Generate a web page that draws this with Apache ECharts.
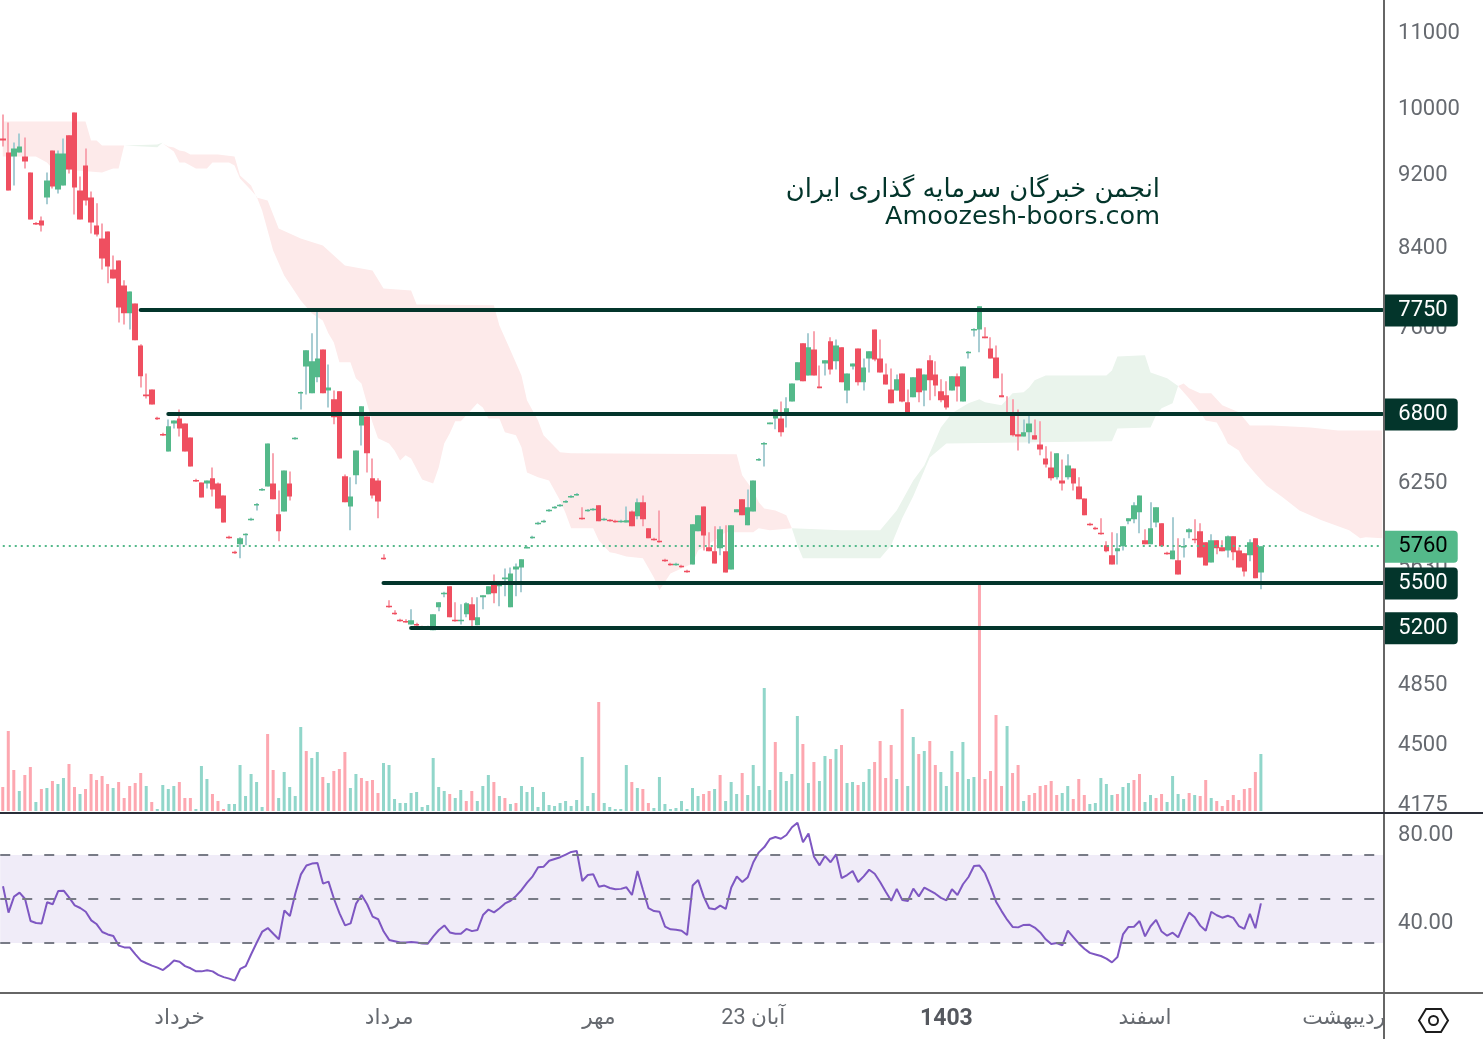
<!DOCTYPE html>
<html><head><meta charset="utf-8">
<script src="https://cdn.jsdelivr.net/npm/echarts@6/dist/echarts.min.js"></script>
<style>html,body{margin:0;padding:0;background:#fff}#c{width:1483px;height:1039px}</style></head>
<body><div id="c"></div><script>
// open, close, low, high
const candles=[[9606,9582,9510,9900],[9438,8999,8999,9800],[9391,9486,9056,9558],[9438,9510,9438,9667],[9391,9332,9251,9618],[9205,8677,8677,9205],[8638,8628,8618,8648],[8666,8612,8547,8710],[8920,9113,8843,9205],[9462,9044,9021,9462],
[9010,9427,8965,9462],[9056,9427,9056,9606],[9643,9239,9193,9643],[9925,9033,8732,9925],[8999,8677,8677,9159],[9286,8887,8831,9486],[8920,8644,8526,8988],[8612,8515,8494,8854],[8472,8263,8149,8633],[8547,8180,8008,8547],
[8149,8058,8058,8294],[8242,7770,7625,8242],[7987,7712,7606,8038],[7712,7927,7558,7927],[7809,7455,7455,7809],[7408,7126,7027,7418],[6966,6949,6931,7152],[7010,6879,6879,7010],[6764,6754,6745,6773],[6629,6621,6612,6638],
[6485,6692,6485,6750],[6717,6742,6675,6742],[6759,6675,6608,6836],[6717,6485,6485,6717],[6600,6364,6364,6600],[6257,6249,6241,6265],[6237,6121,6121,6237],[6229,6253,6190,6253],[6269,6182,6128,6356],[6229,6037,6037,6237],
[6136,5932,5932,6136],[5826,5818,5811,5833],[5717,5709,5702,5724],[5771,5815,5670,5822],[5840,5848,5764,5852],[5951,5959,5944,5966],[6063,6071,6022,6078],[6178,6186,6171,6193],[6206,6550,6206,6550],[6229,6106,6106,6469],
[5992,5866,5793,6175],[6014,6332,6014,6332],[6229,6128,6098,6324],[6588,6596,6580,6604],[6980,6988,6836,6992],[7215,7362,6966,7362],[6975,7261,6975,7521],[7117,7288,7072,7741],[7371,6975,6975,7371],[7001,7027,6853,7233],
[6923,6768,6709,7001],[6993,6428,6428,6993],[6285,6083,6083,6300],[6052,6128,5873,6277],[6293,6493,6222,6493],[6700,6862,6534,6862],[6776,6469,6316,6776],[6269,6136,6113,6428],[6253,6090,5962,6269],[5674,5666,5660,5699],
[5342,5336,5329,5379],[5295,5289,5282,5312],[5249,5243,5236,5256],[5242,5236,5229,5253],[5219,5246,5219,5319],[5222,5216,5209,5229],[5203,5197,5190,5210],[5197,5203,5190,5210],[5180,5286,5180,5286],[5332,5366,5306,5366],
[5424,5430,5399,5437],[5475,5266,5266,5475],[5249,5243,5236,5366],[5243,5249,5219,5352],[5286,5359,5266,5366],[5352,5246,5200,5399],[5213,5266,5213,5399],[5399,5413,5319,5413],[5420,5475,5420,5475],[5509,5427,5359,5557],
[5479,5485,5339,5495],[5523,5536,5406,5599],[5332,5564,5332,5606],[5592,5613,5406,5634],[5606,5663,5434,5663],[5746,5752,5742,5756],[5818,5826,5811,5833],[5921,5929,5914,5936],[5936,5944,5929,5951],[6018,6026,6011,6033],
[6041,6049,6034,6056],[6056,6064,6049,6071],[6086,6094,6079,6101],[6124,6132,6117,6139],[6140,6148,6133,6155],[5966,5958,5951,6045],[6018,6026,6011,6033],[6026,6034,6019,6041],[6060,5940,5940,6060],[5951,5959,5944,5966],
[5951,5943,5936,5958],[5944,5936,5929,5951],[5936,5944,5929,5951],[5932,5947,5932,6052],[6014,5903,5903,6022],[5977,6083,5955,6113],[6083,5955,5903,6136],[5888,5815,5815,5888],[5811,5803,5796,5818],[5797,5789,5782,6022],
[5660,5652,5645,5667],[5631,5623,5617,5638],[5623,5631,5617,5638],[5617,5609,5603,5624],[5582,5574,5568,5589],[5627,5918,5627,5918],[5866,5985,5866,5985],[6052,5836,5727,6052],[5749,5720,5720,5859],[5720,5634,5634,5903],
[5742,5881,5692,5903],[5720,5571,5571,5910],[5592,5910,5592,5910],[6007,6030,6007,6030],[6106,5985,5985,6106],[5910,6045,5910,6182],[6014,6253,6014,6253],[6416,6424,6408,6432],[6546,6554,6364,6562],[6709,6725,6709,6725],
[6759,6836,6667,6836],[6759,6642,6608,6905],[6802,6845,6683,6940],[6905,7063,6905,7063],[7090,7252,7090,7252],[7427,7081,7081,7427],[7134,7390,7134,7521],[7371,7134,7134,7540],[7036,7019,7019,7224],[7242,7270,7134,7270],
[7446,7188,7143,7483],[7261,7408,7188,7464],[7390,7072,7072,7390],[7001,7152,6888,7152],[7215,7242,7188,7242],[7380,7072,7045,7380],[7072,7206,7001,7288],[7288,7353,7161,7353],[7558,7279,7261,7558],[7288,7161,7161,7464],
[7143,7054,7054,7242],[7010,6888,6888,7197],[7001,7099,7001,7143],[7152,6905,6897,7152],[6897,6811,6811,7010],[6940,7117,6940,7117],[7197,6984,6897,7197],[7001,7143,6862,7143],[7270,7090,6914,7316],[7143,7045,6949,7261],
[6993,6914,6897,7099],[6958,6853,6836,7081],[7001,7126,7001,7126],[7126,7036,6905,7152],[6905,7215,6905,7215],[7340,7348,7288,7356],[7553,7563,7492,7568],[7558,7780,7344,7780],[7492,7474,7474,7578],[7380,7288,7288,7483],
[7297,7108,7108,7408],[6958,6940,6940,7152],[6806,6798,6790,6949],[6802,6617,6608,6923],[6625,6608,6493,6836],[6608,6642,6608,6750],[6642,6717,6550,6794],[6617,6583,6583,6750],[6542,6501,6453,6734],[6428,6380,6356,6526],
[6356,6269,6253,6485],[6277,6469,6261,6469],[6253,6229,6175,6420],[6277,6372,6261,6461],[6348,6229,6175,6348],[6206,6106,6106,6277],[6113,5985,5985,6113],[5922,5914,5907,5929],[5892,5884,5877,5899],[5855,5847,5840,5962],
[5764,5720,5713,5793],[5692,5627,5627,5859],[5720,5742,5627,5851],[5756,5903,5727,5903],[5940,5962,5918,5962],[5955,6060,5925,6083],[6007,6136,5851,6136],[5800,5771,5771,5881],[5771,5888,5771,6083],[5932,6045,5896,6045],
[5925,5756,5756,5925],[5710,5702,5695,5717],[5663,5727,5663,5970],[5656,5557,5557,5815],[5753,5759,5677,5815],[5859,5881,5815,5888],[5811,5803,5778,5955],[5866,5677,5677,5925],[5785,5620,5620,5785],[5641,5800,5641,5844],
[5800,5742,5699,5800],[5749,5720,5720,5800],[5727,5829,5677,5836],[5829,5713,5656,5829],[5727,5606,5606,5749],[5706,5578,5543,5706],[5692,5785,5649,5807],[5815,5530,5530,5815],[5571,5756,5454,5756]];

const volumes=[72,240,123,60,108,132,27,66,69,90,81,99,141,72,51,66,111,93,105,81,69,87,39,75,84,114,75,27,6,78,66,75,87,39,39,6,135,96,51,30,6,21,21,138,45,111,87,12,231,123,39,117,72,45,252,180,159,177,102,84,120,126,177,69,111,99,90,93,54,144,138,36,24,24,54,57,12,18,
159,72,60,51,39,63,30,60,30,75,108,87,45,39,21,24,75,57,72,12,57,18,15,24,30,15,33,162,15,54,327,24,12,6,6,138,87,69,66,24,9,102,21,6,9,30,6,69,45,51,60,66,108,30,87,51,114,48,138,75,369,63,207,117,90,111,285,201,84,147,90,165,156,186,198,84,87,
78,87,126,147,210,99,198,96,306,75,222,171,180,210,138,117,75,180,117,207,96,102,684,96,120,288,75,255,114,138,30,48,54,75,78,90,48,54,75,36,96,48,21,24,99,81,48,51,72,84,93,111,27,48,39,51,27,105,51,36,54,48,45,93,39,30,15,33,48,33,66,69,117,171];
const volumeDir="rrrgrrgrgr"+"ggrrgrrrrr"+"grrrrrgrgg"+"ggrrrgggrr"+"rgggggggrr"+"gggggrggrg"+"rrrggrrrrg"+"gggggggg"
 +"gggrggrrgg"+"grgrgrgggg"+"gggggggggg"+"rgggggrgrr"+"gggggggggr"+"rgrgggrggg"+"ggrggggrgr"+"ggrgrgg"
 +"rggrrrrgrg"+"grgrrgggrg"+"ggrrrrrgrr"+"grrrrrrggr"+"rrgggggrgg"+"rrggrrgggg"+"rgrrgrrrrr"+"rrrg";
const rsi=[55.8,43.8,51.1,52.9,50,40,39.1,38.9,48.5,47.6,53.6,53.8,50.6,47.1,45.9,44.2,40.3,38.5,35,33.9,33.2,28.8,28,27.9,24.8,22,20.8,19.7,18.8,17.7,19.7,22,21.5,19.5,18.5,17.1,17.1,17.6,17.1,15.5,14.5,13.8,12.9,18.2,19.5,25,30.2,35.2,36.8,34.2,31.7,44.8,42.3,52.6,61.2,65.2,66.1,66.4,57,57.9,50,43.5,38,38.9,47.9,51.8,47.6,42,40.8,35.2,31.4,30.8,30.2,30.2,30.5,30.2,29.8,29.7,33,35.9,38,34.8,34.2,34.2,36.4,35.4,35.9,42.7,45.2,43.9,45.8,48,49.2,51.4,54.1,57.4,60.3,64.4,64.7,67.4,68.2,69,70.2,71.4,71.8,58.2,60.9,61.2,55.6,56.1,55,54.4,54.6,55.3,51.8,
62.7,54.1,45.8,44.5,44.2,37.4,36.2,36,35.6,33.6,56.1,58.6,51.1,45.8,45.3,47,45.5,55.2,60.2,57.7,59.9,66.7,71.2,73.6,77.3,78.2,77.4,79.1,82.6,84.7,75.8,79.8,69.2,65.3,69.5,66.7,70.3,59.5,60.9,62.7,57.7,60.3,63.3,61.5,57.6,53.3,49.2,54.6,49.5,49.1,54.7,51.2,55.2,53.8,52.4,50.5,49.4,54.4,51.8,56.7,60,65,65.2,61.7,55.6,48.8,44.5,40.6,37.3,37.1,38.2,38.3,37,34.8,31.7,29.5,30,28.9,35.6,32.7,29.8,27.4,25.5,24.8,24.1,22.9,21.2,23.6,33.9,37.3,37.4,40,33,37.6,40.5,35.2,33.3,34.7,32.6,38.5,43.8,41.7,37.9,35.6,44.2,42.6,41.5,42.4,41.4,37.7,36.4,43.2,36.7,48];

const pinkAUpper=[[0,9813],[15,9813],[16,9582],[17,9582],[18,9522],[22,9522]];
const pinkALower=[[0,9391],[6,9391],[8,9321],[9,9251],[18,9205],[20,9251],[21,9251],[22,9522]];
const greenAUpper=[[22,9522],[28,9534],[29,9558]];
const greenALower=[[22,9522],[28,9500],[29,9558]];
const pinkBUpper=[[29,9546],[30,9510],[31,9498],[32,9462],[33,9450],[34,9415],[39,9415],[42,9391],[43,9170],[45,9056],[46,8920],[48,8887],[50,8580],[54,8472],[58,8398],[62,8190],[67,8139],[69,7957],[74,7937],[75,7799],[89,7790],[90,7596],[92,7362],[94,7134],[95,6914],[97,6742],[98,6617],[101,6477],[103,6469],[133,6461],[134,6293],[136,6175],[137,6083],[138,6037],[140,6022],[142,5985],[143,5888]];
const pinkBLower=[[29,9546],[31,9450],[32,9321],[33,9321],[35,9251],[37,9251],[38,9321],[41,9321],[42,9286],[43,9135],[45,9000],[46,8931],[47,8776],[49,8346],[51,8088],[54,7838],[56,7712],[58,7644],[59,7521],[60,7436],[61,7252],[63,7252],[64,7108],[65,7063],[66,6888],[67,6725],[68,6592],[70,6550],[71,6493],[72,6412],[73,6453],[74,6428],[76,6261],[78,6229],[79,6356],[80,6550],[81,6633],[82,6734],[83,6734],[86,6888],[87,6853],[88,6759],[90,6759],[91,6642],[93,6617],[94,6518],[95,6316],[97,6277],[99,6253],[101,6098],[102,6000],[103,5888],[107,5888],[108,5800],[110,5713],[111,5706],[113,5684],[116,5670],[118,5536],[119,5447],[121,5564],[125,5634],[126,5727],[129,5800],[131,5859],[136,5859],[137,5888],[139,5873],[143,5888]];
const greenBUpper=[[143,5888],[152,5873],[159,5873],[162,6022],[165,6253],[167,6372],[170,6683],[172,6802],[175,6888],[177,6923],[178,6897],[181,6871],[183,6975],[185,6984],[186,7027],[187,7090],[189,7134],[200,7134],[201,7179],[202,7306],[207,7316],[208,7161],[211,7108],[213,7040]];
const greenBLower=[[143,5888],[144,5764],[145,5670],[159,5670],[161,5764],[163,5962],[165,6130],[167,6332],[168,6436],[171,6550],[201,6567],[202,6675],[208,6683],[209,6785],[210,6845],[212,6888],[213,7040]];
const pinkCUpper=[[213,7040],[214,7063],[215,7019],[217,6975],[219,6975],[221,6871],[224,6811],[226,6700],[230,6700],[237,6683],[242,6658],[250,6658]];
const pinkCLower=[[213,7040],[215,6931],[217,6811],[218,6742],[220,6725],[221,6642],[222,6550],[224,6493],[225,6412],[227,6308],[229,6214],[232,6121],[235,6022],[239,5947],[244,5873],[246,5815],[247,5822],[250,5815]];

const priceTicks=[11000,10000,9200,8400,7600,6800,6250,5630,5200,4850,4500,4175];
const rsiTicks=[80,40];
const rsiBand=[30,50,70];
const levels=[7750,6800,5500,5200];
const levelStarts=[25,30,69,74];
const lastPrice=5760;
const timeLabels={32:'خرداد',70:'مرداد',108:'مهر',136:'23 آبان',171:'1403',207:'اسفند',243:'ردیبهشت'};
const SLOTS=251;

const PINK='#fdeaea',GREEN='#eaf4ec',DARK='#03352b',TAG='#54b98a',FONT='Roboto, "DejaVu Sans", sans-serif',AXC='#666a70';
const clouds=[[pinkAUpper,pinkALower,PINK],[greenAUpper,greenALower,GREEN],[pinkBUpper,pinkBLower,PINK],[greenBUpper,greenBLower,GREEN],[pinkCUpper,pinkCLower,PINK]];
const cats=Array.from({length:SLOTS},(_,i)=>timeLabels[i]||'');
const chart=echarts.init(document.getElementById('c'),null,{renderer:'canvas'});

function cloudItem(p,api){
  const c=clouds[p.dataIndex];
  const pts=c[0].concat(c[1].slice().reverse()).map(q=>api.coord(q));
  return {type:'polygon',shape:{points:pts},style:{fill:c[2]},silent:true};
}
function candleItem(p,api){
  const i=api.value(0),o=api.value(1),c=api.value(2),l=api.value(3),h=api.value(4);
  const cx=api.coord([i,o])[0],w=api.size([1,0])[0];
  const yo=api.coord([i,o])[1],yc=api.coord([i,c])[1],yl=api.coord([i,l])[1],yh=api.coord([i,h])[1];
  const up=c>=o;
  const left=Math.round(cx-w/2),right=Math.round(cx+w/2),top=Math.min(yo,yc),bh=Math.max(Math.abs(yo-yc),1.5);
  return {type:'group',children:[
    {type:'rect',shape:{x:Math.round(cx-1),y:yh,width:2,height:yl-yh},style:{fill:up?'#a8cdd3':'#f8a6b1'}},
    {type:'rect',shape:{x:left,y:top,width:right-left,height:bh},style:{fill:up?'#54b98a':'#ef4f60'}}
  ]};
}
const hidden=(g)=>({type:'category',gridIndex:g,data:cats,show:false,boundaryGap:true});
const tagLabel=(bg,col)=>({show:true,position:'end',distance:2,offset:[0,1],color:col,fontSize:22,fontFamily:FONT,backgroundColor:bg,padding:[6,10,2,14],lineHeight:24,borderRadius:[0,4,4,0],formatter:p=>String(p.value)});
const tickRich={t:{padding:[6,0,0,0],color:AXC,fontSize:22,fontFamily:FONT,align:'left'}};
const option={
  animation:false,backgroundColor:'#fff',
  grid:[
    {left:-0.46,width:1385.5,top:0.5,height:813},
    {left:-0.46,width:1385.5,top:0,height:811},
    {left:-0.46,width:1385.5,top:813,height:180}
  ],
  xAxis:[hidden(0),hidden(1),{type:'category',gridIndex:2,data:cats,boundaryGap:true,axisLine:{show:false},axisTick:{show:false},splitLine:{show:false},
    axisLabel:{show:true,interval:0,margin:15,color:AXC,fontSize:21.6,fontFamily:FONT,hideOverlap:false,
      formatter:v=>v==='1403'?'{b|1403}':v,rich:{b:{fontWeight:'bold',fontSize:23,color:'#55585e',fontFamily:FONT}}}}],
  yAxis:[
    {type:'log',gridIndex:0,position:'right',min:4116,max:11422,logBase:10,scale:true,axisLine:{show:false},axisTick:{show:false},splitLine:{show:false},minorTick:{show:false},
      axisLabel:{show:true,customValues:priceTicks,margin:13,color:AXC,fontSize:22,fontFamily:FONT,align:'left',showMinLabel:true,showMaxLabel:true,hideOverlap:false,rich:tickRich,formatter:v=>'{t|'+Math.round(v)+'}'}},
    {type:'value',gridIndex:1,min:0,max:2433,show:false},
    {type:'value',gridIndex:2,position:'right',min:7.27,max:89.09,axisLine:{show:false},axisTick:{show:false},splitLine:{show:false},
      axisLabel:{show:true,customValues:rsiTicks,margin:13,color:AXC,fontSize:22,fontFamily:FONT,align:'left',rich:tickRich,formatter:v=>'{t|'+Number(v).toFixed(2)+'}'}}
  ],
  series:[
    {type:'custom',name:'cloud',xAxisIndex:0,yAxisIndex:0,z:1,clip:true,silent:true,renderItem:cloudItem,data:clouds.map((c,k)=>[c[0][0][0],c[0][0][1]]),encode:{x:0,y:1}},
    {type:'line',name:'levels',xAxisIndex:0,yAxisIndex:0,z:2,symbol:'none',data:[],silent:true,
      markLine:{silent:true,symbol:'none',animation:false,lineStyle:{color:DARK,width:4,type:'solid',cap:'round'},label:tagLabel(DARK,'#fff'),
        data:levels.map((v,k)=>[{coord:[levelStarts[k],v],value:v},{coord:[250,v],value:v}])}},
    {type:'bar',name:'volume',xAxisIndex:1,yAxisIndex:1,z:3,barWidth:3,silent:true,
      data:volumes.map((v,i)=>({value:v,itemStyle:{color:volumeDir[i]==='g'?'#91d6ca':'#fda7b0'}}))},
    {type:'custom',name:'candles',xAxisIndex:0,yAxisIndex:0,z:4,clip:true,silent:true,renderItem:candleItem,
      data:candles.map((c,i)=>[i,c[0],c[1],c[2],c[3]]),encode:{x:0,y:[1,2,3,4]}},
    {type:'line',name:'last',xAxisIndex:0,yAxisIndex:0,z:5,symbol:'none',data:[],silent:true,
      markLine:{silent:true,symbol:'none',animation:false,lineStyle:{color:TAG,width:2,type:[2,4]},label:tagLabel(TAG,'#000'),
        data:[[{coord:[0,lastPrice],value:lastPrice},{coord:[250,lastPrice],value:lastPrice}]]}},
    {type:'line',name:'rsi',xAxisIndex:2,yAxisIndex:2,z:4,symbol:'none',silent:true,data:rsi,
      lineStyle:{color:'#7e57c2',width:2},
      markArea:{silent:true,itemStyle:{color:'#f0ecf8'},data:[[{yAxis:rsiBand[0]},{yAxis:rsiBand[2]}]]},
      markLine:{silent:true,symbol:'none',animation:false,label:{show:false},lineStyle:{color:'#787b86',width:2,type:[10,12]},data:rsiBand.map(v=>({yAxis:v}))}}
  ],
  graphic:[
    {type:'line',z:50,shape:{x1:1384,y1:0,x2:1384,y2:1039},style:{stroke:'#666',lineWidth:2}},
    {type:'line',z:50,shape:{x1:0,y1:813,x2:1483,y2:813},style:{stroke:'#2a2e39',lineWidth:2}},
    {type:'line',z:50,shape:{x1:0,y1:993,x2:1483,y2:993},style:{stroke:'#666',lineWidth:2}},
    {type:'text',z:50,style:{text:'انجمن خبرگان سرمایه گذاری ایران',x:1160,y:190,textAlign:'right',textVerticalAlign:'middle',fill:'#03352b',font:'25.8px "DejaVu Sans"'}},
    {type:'text',z:50,style:{text:'Amoozesh-boors.com',x:1160,y:217,textAlign:'right',textVerticalAlign:'middle',fill:'#03352b',font:'25.5px "DejaVu Sans"'}},
    {type:'polygon',z:50,shape:{points:[[1419,1020.5],[1426,1009],[1441,1009],[1448,1020.5],[1441,1032],[1426,1032]]},style:{fill:'none',stroke:'#1c1c1c',lineWidth:2}},
    {type:'circle',z:50,shape:{cx:1433.5,cy:1020.5,r:4.5},style:{fill:'none',stroke:'#1c1c1c',lineWidth:2}}
  ]
};
chart.setOption(option);
</script></body></html>
